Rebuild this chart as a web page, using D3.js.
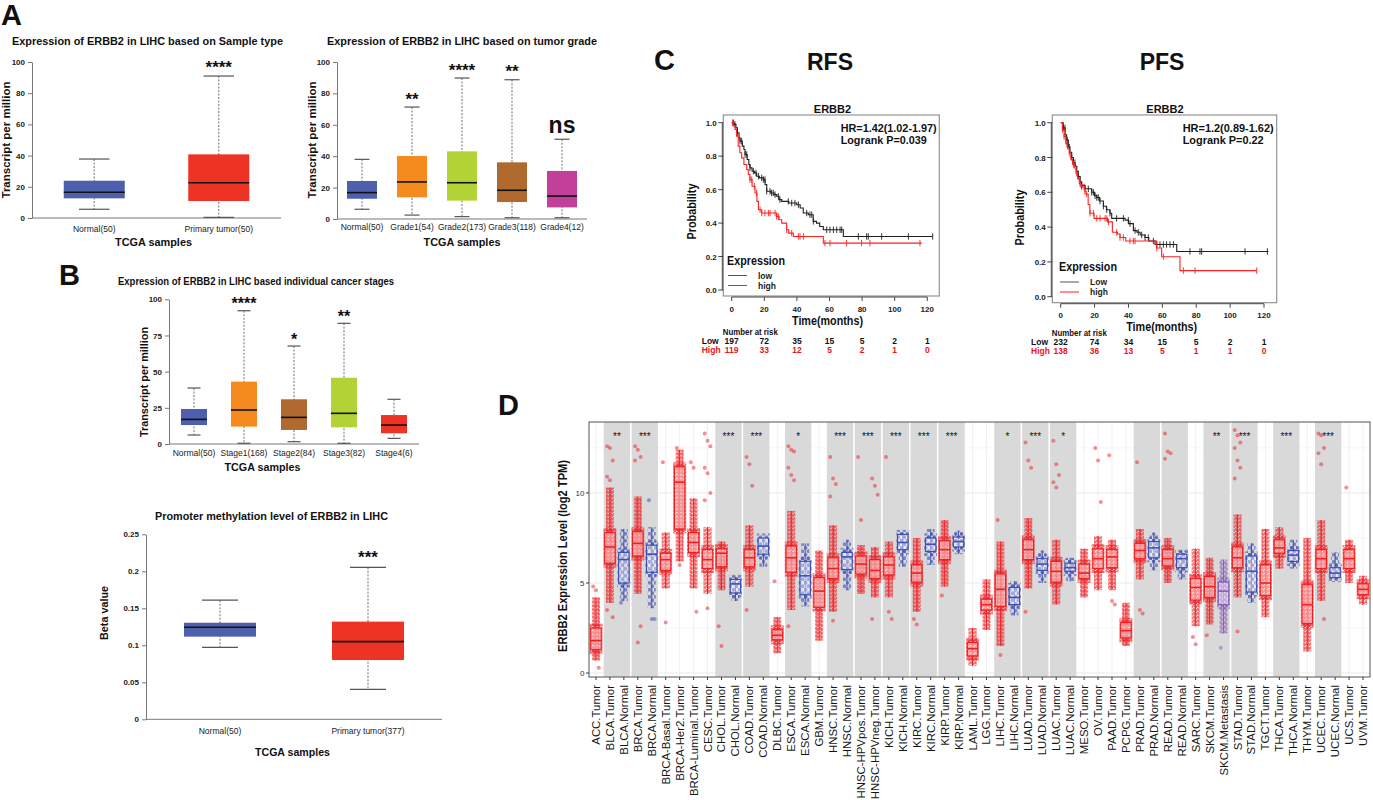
<!DOCTYPE html>
<html>
<head>
<meta charset="utf-8">
<title>ERBB2 in LIHC</title>
<script src="https://d3js.org/d3.v7.min.js"></script>
<style>
  body { margin: 0; background: #fff; }
  text { font-family: "Liberation Sans", Arial, sans-serif; }
</style>
</head>
<body>
<script>
// ---------- data: UALCAN box plots [min, q1, median, q3, max] ----------
var sampleCats = ["Normal(50)", "Primary tumor(50)"];
var sampleStats = [[5.6, 12.6, 16.5, 23.9, 37.8], [0.4, 10.9, 22.6, 40.8, 91]];
var sampleSig = ["", "****"];

var gradeCats = ["Normal(50)", "Grade1(54)", "Grade2(173)", "Grade3(118)", "Grade4(12)"];
var gradeStats = [[6.2, 12.9, 16.8, 24.2, 38], [2.5, 13.8, 23.6, 40.1, 71.3], [1.5, 11.7, 23.1, 43.1, 89.8],
                  [0.8, 10.8, 18.3, 36.1, 88.7], [0.8, 7.4, 14.6, 30.6, 50.8]];
var gradeSig = ["", "**", "****", "**", "ns"];

var stageCats = ["Normal(50)", "Stage1(168)", "Stage2(84)", "Stage3(82)", "Stage4(6)"];
var stageStats = [[6.2, 13.1, 17.0, 24.2, 38.7], [0.5, 12.0, 23.5, 43.1, 92.1], [1.6, 9.7, 18.4, 30.9, 67.7],
                  [0.5, 11.5, 21.2, 45.8, 83.4], [3.9, 7.4, 13.1, 20.0, 30.9]];
var stageSig = ["", "****", "*", "**", ""];

var methCats = ["Normal(50)", "Primary tumor(377)"];
var methStats = [[0.0973, 0.1117, 0.1243, 0.1305, 0.161], [0.0405, 0.0801, 0.1049, 0.132, 0.2054]];
var methSig = ["", "***"];

// ---------- data: Kaplan-Meier ----------
var kmTicks = [0, 20, 40, 60, 80, 100, 120];
var rfsLowT = [0, 1.5, 2.6, 3.5, 4.5, 5.1, 6.5, 7.5, 8.2, 9.5, 10.5, 11.2, 12.5, 14, 15.3, 17, 19.4, 20.5, 21.5, 24, 26, 27.6, 29, 30.7, 35, 39.9, 42, 43.9, 47, 50, 52, 54, 56.2, 68.5, 123.3];
var rfsLowS = [1, 0.99, 0.97, 0.94, 0.91, 0.89, 0.86, 0.84, 0.81, 0.78, 0.75, 0.73, 0.71, 0.70, 0.68, 0.67, 0.66, 0.63, 0.59, 0.58, 0.57, 0.56, 0.54, 0.53, 0.52, 0.51, 0.49, 0.46, 0.45, 0.41, 0.40, 0.38, 0.36, 0.32, 0.32];
var rfsHighT = [0, 1, 2, 3, 4, 5, 6.1, 7.5, 9.2, 10.2, 11.2, 12.5, 14.3, 15.5, 16.4, 18.4, 27.6, 29, 30.7, 33.7, 35, 37.8, 56.2, 116.6];
var rfsHighS = [1, 0.98, 0.96, 0.92, 0.86, 0.82, 0.79, 0.75, 0.72, 0.69, 0.66, 0.62, 0.58, 0.53, 0.48, 0.46, 0.44, 0.42, 0.40, 0.36, 0.34, 0.32, 0.28, 0.28];
var rfsLowCens = [1, 2, 3.5, 5.1, 6.1, 8.2, 9.2, 11.2, 13.3, 14.9, 16.4, 18.4, 19.4, 20.4, 21.5, 23.5, 24.5, 25.5, 26.6, 28.6, 29.6, 34.7, 36.8, 38.8, 40.9, 46, 48, 49.1, 50.1, 58.3, 60.3, 62.4, 64.4, 66.5, 67.5, 77.7, 82.8, 83.8, 92, 108.4, 123.3];
var rfsHighCens = [0.5, 11.2, 12.3, 13.9, 15.3, 17.4, 18.4, 20.4, 22.5, 23.5, 26.6, 27.6, 28.6, 33.7, 36.8, 40.9, 41.9, 44, 57.2, 60.3, 70.5, 79.7, 84.8, 115.5];
var rfsRiskLow = [197, 72, 35, 15, 5, 2, 1];
var rfsRiskHigh = [119, 33, 12, 5, 2, 1, 0];

var pfsLowT = [0, 1.5, 2.6, 3.5, 4.5, 5.5, 6.5, 7.5, 8.5, 9.5, 10.4, 11.5, 12.4, 14.3, 18.3, 20, 21.3, 23, 25.2, 27, 29.1, 30.1, 38, 40, 42.9, 45, 46.9, 49.8, 52, 55.7, 68.5, 122.6];
var pfsLowS = [1, 0.97, 0.93, 0.90, 0.86, 0.83, 0.80, 0.77, 0.75, 0.72, 0.69, 0.66, 0.64, 0.62, 0.60, 0.58, 0.57, 0.55, 0.52, 0.50, 0.48, 0.45, 0.44, 0.42, 0.38, 0.37, 0.355, 0.34, 0.32, 0.30, 0.26, 0.26];
var pfsHighT = [0, 1, 2, 3, 4, 5, 6, 7, 8, 9, 10, 11, 11.9, 14.3, 16.2, 17.2, 19.7, 27.6, 30.5, 33.5, 35, 38.4, 56.7, 59.6, 70.4, 115.7];
var pfsHighS = [1, 0.96, 0.92, 0.88, 0.85, 0.82, 0.79, 0.76, 0.74, 0.71, 0.68, 0.65, 0.63, 0.59, 0.53, 0.48, 0.45, 0.43, 0.37, 0.36, 0.34, 0.32, 0.28, 0.23, 0.15, 0.15];
var pfsLowCens = [1.6, 2.5, 3.9, 5.1, 6.5, 8.4, 10.4, 12.4, 14.4, 16.3, 18.3, 19.3, 20.3, 21.3, 22.2, 23.2, 25.2, 27.2, 29.1, 33, 37, 39.9, 40.9, 43.9, 45.8, 47.8, 49.8, 51.7, 54.7, 56.7, 58.6, 60.6, 62.5, 64.5, 66.5, 76.3, 82.2, 83.2, 108.8, 122];
var pfsHighCens = [1, 2, 3.6, 5.5, 7.5, 9.4, 11.4, 12.4, 13.8, 15.3, 17.3, 19.3, 21.3, 23.2, 26.2, 27.2, 28.2, 33, 35, 37, 40.9, 42.9, 43.9, 56.7, 60.6, 72.4, 79.3, 115.7];
var pfsRiskLow = [232, 74, 34, 15, 5, 2, 1];
var pfsRiskHigh = [138, 36, 13, 5, 1, 1, 0];

// ---------- data: TIMER pan-cancer [lo, q1, median, q3, hi] ----------
var dCats = ["ACC.Tumor","BLCA.Tumor","BLCA.Normal","BRCA.Tumor","BRCA.Normal","BRCA-Basal.Tumor","BRCA-Her2.Tumor","BRCA-Luminal.Tumor","CESC.Tumor","CHOL.Tumor","CHOL.Normal","COAD.Tumor","COAD.Normal","DLBC.Tumor","ESCA.Tumor","ESCA.Normal","GBM.Tumor","HNSC.Tumor","HNSC.Normal","HNSC-HPVpos.Tumor","HNSC-HPVneg.Tumor","KICH.Tumor","KICH.Normal","KIRC.Tumor","KIRC.Normal","KIRP.Tumor","KIRP.Normal","LAML.Tumor","LGG.Tumor","LIHC.Tumor","LIHC.Normal","LUAD.Tumor","LUAD.Normal","LUAC.Tumor","LUAC.Normal","MESO.Tumor","OV.Tumor","PAAD.Tumor","PCPG.Tumor","PRAD.Tumor","PRAD.Normal","READ.Tumor","READ.Normal","SARC.Tumor","SKCM.Tumor","SKCM.Metastasis","STAD.Tumor","STAD.Normal","TGCT.Tumor","THCA.Tumor","THCA.Normal","THYM.Tumor","UCEC.Tumor","UCEC.Normal","UCS.Tumor","UVM.Tumor"];
var dStats = [
  [0.7,1.3,1.8,2.5,4.2],[3.9,6.1,7.0,7.8,10.3],[4.0,5.0,6.3,6.7,8.0],[4.4,6.5,7.2,7.85,9.8],[3.6,5.6,6.6,7.1,8.1],
  [4.7,5.7,6.3,6.65,7.8],[6.2,8.0,10.6,11.45,12.4],[4.7,6.7,7.25,7.8,9.7],[4.4,5.8,6.3,6.85,8.1],[4.6,5.9,6.65,6.9,7.3],
  [4.0,4.45,4.95,5.2,5.35],[4.8,5.9,6.4,6.85,8.2],[5.9,6.6,7.05,7.5,7.5],[1.1,1.85,2.1,2.4,3.1],[3.5,5.6,6.4,7.05,9.0],
  [3.7,4.35,5.4,6.2,7.2],[1.8,3.65,4.55,5.3,6.8],[3.4,5.25,5.8,6.4,8.2],[4.6,5.75,6.45,6.7,7.4],[4.4,5.5,6.05,6.5,7.1],
  [4.2,5.25,5.7,6.3,7.0],[4.2,5.45,6.0,6.45,7.3],[5.9,6.85,7.25,7.7,7.8],[3.4,5.05,5.55,6.0,7.5],[6.0,6.75,7.15,7.5,8.0],
  [4.8,6.3,6.85,7.35,8.5],[6.6,7.0,7.3,7.55,7.9],[0.4,0.95,1.35,1.7,2.5],[2.4,3.5,3.8,4.1,5.2],[1.5,3.7,4.65,5.5,7.3],
  [3.2,3.8,4.2,4.75,5.1],[4.7,6.3,6.85,7.4,8.6],[5.0,5.7,6.05,6.35,6.8],[3.8,5.05,5.65,6.2,7.4],[5.1,5.65,5.85,6.1,6.4],
  [4.2,5.25,5.55,6.05,6.9],[4.6,5.8,6.35,6.9,7.6],[4.6,5.85,6.45,6.85,7.4],[1.5,1.95,2.35,2.8,3.9],[5.2,6.35,6.8,7.2,8.0],
  [5.7,6.4,6.95,7.3,7.8],[5.0,5.95,6.35,6.85,7.5],[5.2,5.85,6.35,6.6,6.8],[2.6,4.05,4.75,5.25,6.9],[2.7,4.2,4.8,5.35,6.4],
  [2.2,3.8,4.55,5.05,6.3],[4.2,5.85,6.4,7.0,8.8],[3.9,4.5,5.65,6.5,7.2],[3.1,4.3,5.0,6.0,8.0],[5.8,6.65,6.95,7.4,8.1],
  [5.8,6.2,6.55,6.8,7.4],[1.2,2.75,3.8,4.9,7.5],[4.0,5.8,6.35,6.85,8.5],[5.2,5.3,5.55,5.85,6.7],[5.0,5.8,6.35,6.85,7.4],
  [3.8,4.35,4.65,4.95,5.4]
];
// scattered points beyond the whiskers
var dOutliers = {
  "ACC.Tumor": [4.8, 4.6, 0.3], "BLCA.Tumor": [12.6, 12.5, 11.8, 10.9, 10.7, 3.1, 3.5], "BLCA.Normal": [3.9],
  "BRCA.Tumor": [12.6, 12.4, 12.0, 11.8, 1.7, 2.6], "BRCA.Normal": [9.6, 3.0, 3.0], "BRCA-Basal.Tumor": [11.7, 2.8],
  "BRCA-Her2.Tumor": [12.5, 6.0], "BRCA-Luminal.Tumor": [11.7, 11.4, 3.4], "CESC.Tumor": [13.3, 12.9, 12.6, 11.4, 11.1, 10.0, 9.6, 3.6],
  "CHOL.Tumor": [2.6, 1.5], "COAD.Tumor": [12.0, 11.6, 10.4, 3.5], "DLBC.Tumor": [5.1],
  "ESCA.Tumor": [12.6, 12.4, 12.3, 11.4, 11.0, 10.7, 2.6], "HNSC.Tumor": [12.0, 10.8, 10.5, 9.8, 2.9],
  "HNSC-HPVpos.Tumor": [12.0, 8.5], "HNSC-HPVneg.Tumor": [10.8, 10.4, 9.9, 3.0], "KICH.Tumor": [12.0, 3.4, 3.0],
  "KIRC.Tumor": [3.0, 2.7], "KIRP.Tumor": [4.3], "LIHC.Tumor": [8.5, 1.0], "LUAD.Tumor": [12.8, 11.8, 11.4, 3.4],
  "LUAC.Tumor": [12.9, 11.6, 11.0, 10.6, 10.3], "OV.Tumor": [12.5, 11.8, 9.5], "PAAD.Tumor": [12.1, 4.0, 3.8],
  "PRAD.Tumor": [11.7, 3.5, 3.3], "READ.Tumor": [13.3, 12.3, 12.2, 11.9], "SARC.Tumor": [2.0, 1.6],
  "SKCM.Tumor": [2.1], "SKCM.Metastasis": [1.4], "STAD.Tumor": [13.5, 13.2, 12.8, 12.5, 11.8, 11.4, 10.8, 2.3],
  "UCEC.Tumor": [13.3, 13.2, 12.5, 12.2, 11.6, 3.0], "UCS.Tumor": [10.3]
};
var bandStart = [1, 3, 9, 11, 14, 17, 19, 21, 23, 25, 29, 31, 33, 39, 41, 44, 46, 49, 52];
var bandSig = ["**", "***", "***", "***", "*", "***", "***", "***", "***", "***", "*", "***", "*", "", "", "**", "***", "***", "***"];

// ---------- setup ----------
var W = 1373, H = 800;
var svg = d3.select("body").append("svg").attr("width", W).attr("height", H);
svg.append("rect").attr("width", W).attr("height", H).attr("fill", "#fff");
var defs = svg.append("defs");

function label(x, y, s, size, o) {
  o = o || {};
  var t = svg.append("text").attr("x", x).attr("y", y).text(s)
    .attr("font-size", size)
    .attr("font-weight", o.weight || "bold")
    .attr("fill", o.fill || "#111")
    .attr("text-anchor", o.anchor || "start");
  if (o.len) t.attr("textLength", o.len).attr("lengthAdjust", "spacingAndGlyphs");
  if (o.rotate) t.attr("transform", "rotate(-90," + x + "," + y + ")");
  return t;
}

// panel letters
label(1, 25, "A", 29);
label(59, 285, "B", 29);
label(654, 70, "C", 29);
label(498, 415, "D", 29);

// ---------- UALCAN style box plot ----------
function boxPanel(c) {
  var x = d3.scaleBand().domain(c.cats).range([c.x0, c.x1]);
  var y = d3.scaleLinear().domain([0, c.max]).range([c.yBot, c.yTop]);
  var g = svg.append("g");

  var ax = g.append("g").attr("transform", "translate(" + c.x0 + ",0)")
    .call(d3.axisLeft(y).tickValues(c.ticks).tickSize(4).tickSizeOuter(0).tickFormat(c.fmt));
  ax.select(".domain").attr("stroke", "#777");
  ax.selectAll(".tick line").attr("stroke", "#777");
  ax.selectAll(".tick text").attr("font-size", 8).attr("font-weight", "bold").attr("fill", "#222")
    .attr("font-family", "Liberation Sans, Arial, sans-serif");
  g.append("line").attr("x1", c.x0).attr("x2", c.x1).attr("y1", c.yBot).attr("y2", c.yBot).attr("stroke", "#777");

  c.cats.forEach(function (cat, i) {
    var s = c.stats[i], cx = x(cat) + x.bandwidth() / 2, bw = c.boxW;
    g.append("line").attr("x1", cx).attr("x2", cx).attr("y1", y(s[4])).attr("y2", y(s[0]))
      .attr("stroke", "#888").attr("stroke-width", 1.2).attr("stroke-dasharray", "2,1.5");
    [s[0], s[4]].forEach(function (v) {
      g.append("line").attr("x1", cx - bw * 0.25).attr("x2", cx + bw * 0.25).attr("y1", y(v)).attr("y2", y(v))
        .attr("stroke", "#555").attr("stroke-width", 1.2);
    });
    g.append("rect").attr("x", cx - bw / 2).attr("width", bw).attr("y", y(s[3])).attr("height", y(s[1]) - y(s[3]))
      .attr("fill", c.colors[i]);
    g.append("line").attr("x1", cx - bw / 2).attr("x2", cx + bw / 2).attr("y1", y(s[2])).attr("y2", y(s[2]))
      .attr("stroke", "#111").attr("stroke-width", 1.6);
    var sig = c.sig[i];
    if (sig === "ns") {
      label(cx, y(s[4]) - c.starGap + 0.26 * c.nsSize, sig, c.nsSize, { anchor: "middle" });
    } else if (sig) {
      label(cx, y(s[4]) - c.starGap + 0.57 * c.starSize, sig, c.starSize, { anchor: "middle" });
    }
    label(cx, c.labY, cat, 8.5, { anchor: "middle", weight: "normal", fill: "#222" });
  });
}

var blue = "#4e5fae", red = "#ee3224", orange = "#f58a1f", lime = "#b3d235", brown = "#b06a30", magenta = "#c2409a";

boxPanel({ cats: sampleCats, stats: sampleStats, sig: sampleSig, colors: [blue, red],
  x0: 32, x1: 281, yTop: 62, yBot: 218, max: 100, ticks: [0, 20, 40, 60, 80, 100], fmt: d3.format("d"),
  boxW: 61, starGap: 13, starSize: 17, nsSize: 22, labY: 232 });
label(147.5, 44.5, "Expression of ERBB2 in LIHC based on Sample type", 10, { anchor: "middle", len: 271 });
label(9.5, 140, "Transcript per million", 11, { anchor: "middle", rotate: true, len: 117 });
label(153.5, 246, "TCGA samples", 11, { anchor: "middle", len: 77 });

boxPanel({ cats: gradeCats, stats: gradeStats, sig: gradeSig, colors: [blue, orange, lime, brown, magenta],
  x0: 337, x1: 587, yTop: 62, yBot: 219, max: 100, ticks: [0, 20, 40, 60, 80, 100], fmt: d3.format("d"),
  boxW: 30, starGap: 12, starSize: 17, nsSize: 23, labY: 230 });
label(462, 45, "Expression of ERBB2 in LIHC based on tumor grade", 10, { anchor: "middle", len: 270 });
label(316, 140, "Transcript per million", 11, { anchor: "middle", rotate: true, len: 117 });
label(462, 246, "TCGA samples", 11, { anchor: "middle", len: 77 });

boxPanel({ cats: stageCats, stats: stageStats, sig: stageSig, colors: [blue, orange, brown, lime, red],
  x0: 169, x1: 419, yTop: 299.3, yBot: 444, max: 100, ticks: [0, 25, 50, 75, 100], fmt: d3.format("d"),
  boxW: 26, starGap: 10.5, starSize: 16, nsSize: 22, labY: 456 });
label(256, 285, "Expression of ERBB2 in LIHC based individual cancer stages", 10, { anchor: "middle", len: 276 });
label(148, 382, "Transcript per million", 11, { anchor: "middle", rotate: true, len: 110 });
label(262.5, 471, "TCGA samples", 11, { anchor: "middle", len: 76 });

boxPanel({ cats: methCats, stats: methStats, sig: methSig, colors: [blue, red],
  x0: 146, x1: 442, yTop: 534.3, yBot: 719.3, max: 0.25, ticks: [0, 0.05, 0.1, 0.15, 0.2, 0.25], fmt: function (d) { return d3.format("")(+d.toFixed(2)); },
  boxW: 72, starGap: 14, starSize: 17, nsSize: 22, labY: 734 });
label(271.5, 520, "Promoter methylation level of ERBB2 in LIHC", 10, { anchor: "middle", len: 233 });
label(108, 613, "Beta value", 11, { anchor: "middle", rotate: true, len: 54 });
label(292.5, 756, "TCGA samples", 11, { anchor: "middle", len: 75 });

// ---------- Kaplan-Meier ----------
function kmPanel(c) {
  var x = d3.scaleLinear().domain([0, 120]).range([c.x0, c.x120]);
  var y = d3.scaleLinear().domain([0, 1]).range([c.y0, c.y1]);
  var g = svg.append("g");
  var b = c.box;
  g.append("rect").attr("x", b[0]).attr("y", b[1]).attr("width", b[2] - b[0]).attr("height", b[3] - b[1])
    .attr("fill", "none").attr("stroke", "#8a8a8a").attr("stroke-width", 1.1);

  [0, 0.2, 0.4, 0.6, 0.8, 1].forEach(function (v) {
    g.append("line").attr("x1", b[0] - 5).attr("x2", b[0]).attr("y1", y(v)).attr("y2", y(v)).attr("stroke", "#444");
    label(b[0] - 6.5, y(v) + 3, v.toFixed(1), 8, { anchor: "end", fill: "#222" });
  });
  g.append("line").attr("x1", b[0] - 1).attr("x2", b[0] - 1).attr("y1", y(1)).attr("y2", y(0)).attr("stroke", "#444");
  kmTicks.forEach(function (t, i) {
    g.append("line").attr("x1", x(t)).attr("x2", x(t)).attr("y1", b[3] + 1).attr("y2", b[3] + 5).attr("stroke", "#444");
    label(x(t), c.xLabY, String(t), 8, { anchor: "middle", fill: "#222" });
    label(x(t), c.riskY, String(c.riskLow[i]), 8.5, { anchor: "middle", fill: "#111" });
    label(x(t), c.riskY + 9.3, String(c.riskHigh[i]), 8.5, { anchor: "middle", fill: "#e8141c" });
  });
  g.append("line").attr("x1", x(0)).attr("x2", x(120)).attr("y1", b[3] + 1).attr("y2", b[3] + 1).attr("stroke", "#444");

  var line = d3.line().curve(d3.curveStepAfter).x(function (d) { return x(d[0]); }).y(function (d) { return y(d[1]); });
  function curve(T, S, cens, color) {
    var pts = T.map(function (t, i) { return [t, S[i]]; });
    g.append("path").attr("d", line(pts)).attr("fill", "none").attr("stroke", color).attr("stroke-width", 1.1);
    cens.forEach(function (t) {
      var k = d3.bisectRight(T, t) - 1, v = S[Math.max(0, k)];
      g.append("line").attr("x1", x(t)).attr("x2", x(t)).attr("y1", y(v) - 3.2).attr("y2", y(v) + 3.2)
        .attr("stroke", color).attr("stroke-width", 0.9);
    });
  }
  curve(c.lowT, c.lowS, c.lowCens, "#1f1f1f");
  curve(c.highT, c.highS, c.highCens, "#ff2020");

  label(c.cx, 70, c.head, 23, { anchor: "middle" });
  label(c.titleX, 113, "ERBB2", 11, { anchor: "middle" });
  label(c.hrX, 131.5, c.hr, 10.5, { len: c.hrLen });
  label(c.hrX, 144, c.p, 10.5, { len: c.pLen });
  label(c.probX, c.probY, "Probability", 12, { anchor: "middle", rotate: true, len: 56 });
  label(c.timeX, c.timeY, "Time(months)", 13, { anchor: "middle", len: 71 });
  label(c.legX, c.legY, "Expression", 12.5, { len: 58 });
  g.append("line").attr("x1", c.legX + 1).attr("x2", c.legX + 20).attr("y1", c.legY + 11).attr("y2", c.legY + 11).attr("stroke", "#555");
  g.append("line").attr("x1", c.legX + 1).attr("x2", c.legX + 20).attr("y1", c.legY + 21).attr("y2", c.legY + 21).attr("stroke", "#ff2020");
  label(c.legX + c.legTextDx, c.legY + 14, c.lowName, 8.5, { fill: "#222" });
  label(c.legX + c.legTextDx, c.legY + 24, "high", 8.5, { fill: "#222" });
  label(c.box[0] - 0.5, c.riskY - 9, "Number at risk", 8.5, { len: 55 });
  label(c.rowX, c.riskY, "Low", 8.5, { fill: "#111" });
  label(c.rowX, c.riskY + 9.3, "High", 8.5, { fill: "#e8141c" });
}

kmPanel({ box: [723.3, 115, 939.3, 296], x0: 731.7, x120: 927.3, y1: 122.7, y0: 290,
  lowT: rfsLowT, lowS: rfsLowS, highT: rfsHighT, highS: rfsHighS, lowCens: rfsLowCens, highCens: rfsHighCens,
  riskLow: rfsRiskLow, riskHigh: rfsRiskHigh, xLabY: 311.5, riskY: 344,
  head: "RFS", cx: 830, titleX: 832.5, hr: "HR=1.42(1.02-1.97)", p: "Logrank P=0.039", hrX: 840.7, hrLen: 96, pLen: 86,
  probX: 696, probY: 211.5, timeX: 827.5, timeY: 325, legX: 727, legY: 264.5, legTextDx: 31, lowName: "low", rowX: 701.7 });

kmPanel({ box: [1052.3, 115, 1276.7, 302.7], x0: 1060.7, x120: 1264, y1: 122.7, y0: 296.7,
  lowT: pfsLowT, lowS: pfsLowS, highT: pfsHighT, highS: pfsHighS, lowCens: pfsLowCens, highCens: pfsHighCens,
  riskLow: pfsRiskLow, riskHigh: pfsRiskHigh, xLabY: 317.5, riskY: 345,
  head: "PFS", cx: 1162, titleX: 1165, hr: "HR=1.2(0.89-1.62)", p: "Logrank P=0.22", hrX: 1182.7, hrLen: 91, pLen: 81,
  probX: 1024, probY: 217.5, timeX: 1161.7, timeY: 330.5, legX: 1059, legY: 271, legTextDx: 31, lowName: "Low", rowX: 1031 });

// ---------- TIMER pan-cancer panel ----------
(function () {
  var L = 589, R = 1370, T = 422, B = 677;
  var x = d3.scaleBand().domain(dCats).range([L, R]);
  var y = d3.scaleLinear().domain([-0.22, 13.94]).range([B, T]);
  var bw = x.bandwidth();
  var g = svg.append("g");
  var colorOf = function (n) { return /Normal$/.test(n) ? "#3f4fb5" : /Metastasis$/.test(n) ? "#8a5cb8" : "#ed2024"; };

  function dotPattern(id, color, w, h, op) {
    var p = defs.append("pattern").attr("id", id).attr("patternUnits", "userSpaceOnUse").attr("width", w).attr("height", h);
    p.append("circle").attr("cx", w * 0.25).attr("cy", h * 0.25).attr("r", 1.9).attr("fill", color).attr("fill-opacity", op);
    p.append("circle").attr("cx", w * 0.75).attr("cy", h * 0.75).attr("r", 1.9).attr("fill", color).attr("fill-opacity", op);
  }
  dotPattern("dotT", "#ed2024", 4.2, 3.8, 0.62);
  dotPattern("dotN", "#3f4fb5", 6, 7, 0.6);
  dotPattern("dotM", "#8a5cb8", 4.6, 4.6, 0.6);
  var patOf = function (n) { return /Normal$/.test(n) ? "url(#dotN)" : /Metastasis$/.test(n) ? "url(#dotM)" : "url(#dotT)"; };

  // grid
  [0, 2.5, 5, 7.5, 10, 12.5].forEach(function (v) {
    g.append("line").attr("x1", L).attr("x2", R).attr("y1", y(v)).attr("y2", y(v))
      .attr("stroke", v % 5 === 0 ? "#e6e6e6" : "#f3f3f3").attr("stroke-width", 0.8);
  });
  dCats.forEach(function (n) {
    var cx = x(n) + bw / 2;
    g.append("line").attr("x1", cx).attr("x2", cx).attr("y1", T).attr("y2", B).attr("stroke", "#ececec").attr("stroke-width", 0.8);
  });
  // significance bands
  bandStart.forEach(function (i, k) {
    var x0 = x(dCats[i]);
    g.append("rect").attr("x", x0 + 0.8).attr("width", 2 * bw - 1.6).attr("y", T).attr("height", B - T).attr("fill", "#d9d9d9");
    if (bandSig[k]) label(x0 + bw, 439.5, bandSig[k], 10, { anchor: "middle", weight: "normal", fill: "#111" });
  });

  dCats.forEach(function (n, i) {
    var s = dStats[i], cx = x(n) + bw / 2, col = colorOf(n);
    // point clouds
    g.append("rect").attr("x", cx - 4).attr("width", 8).attr("y", y(s[4])).attr("height", y(s[0]) - y(s[4])).attr("fill", patOf(n));
    g.append("rect").attr("x", cx - 6.5).attr("width", 13).attr("y", y(s[3] + 0.25)).attr("height", y(s[1] - 0.25) - y(s[3] + 0.25)).attr("fill", patOf(n));
    (dOutliers[n] || []).forEach(function (v, j) {
      g.append("circle").attr("cx", cx + ((j % 3) - 1) * 2.8).attr("cy", y(v)).attr("r", 2)
        .attr("fill", col).attr("fill-opacity", 0.5);
    });
    // box
    g.append("line").attr("x1", cx).attr("x2", cx).attr("y1", y(s[4])).attr("y2", y(s[0])).attr("stroke", col).attr("stroke-width", 1);
    g.append("rect").attr("x", cx - 5.2).attr("width", 10.4).attr("y", y(s[3])).attr("height", y(s[1]) - y(s[3]))
      .attr("fill", "#fff").attr("fill-opacity", 0.45).attr("stroke", col).attr("stroke-width", 1.2);
    g.append("line").attr("x1", cx - 5.2).attr("x2", cx + 5.2).attr("y1", y(s[2])).attr("y2", y(s[2])).attr("stroke", col).attr("stroke-width", 1.6);
    // axis tick + label
    g.append("line").attr("x1", cx).attr("x2", cx).attr("y1", B).attr("y2", B + 3).attr("stroke", "#333");
    label(cx + 4, 685, n, 11.4, { anchor: "end", weight: "normal", fill: "#151515", rotate: true });
  });

  g.append("rect").attr("x", L).attr("y", T).attr("width", R - L).attr("height", B - T)
    .attr("fill", "none").attr("stroke", "#555").attr("stroke-width", 1);
  [0, 5, 10].forEach(function (v) {
    g.append("line").attr("x1", L - 3).attr("x2", L).attr("y1", y(v)).attr("y2", y(v)).attr("stroke", "#333");
    label(L - 4.5, y(v) + 3, String(v), 8, { anchor: "end", weight: "normal", fill: "#333" });
  });
  label(567, 556, "ERBB2 Expression Level (log2 TPM)", 12, { anchor: "middle", rotate: true, len: 192 });
})();
</script>
</body>
</html>
